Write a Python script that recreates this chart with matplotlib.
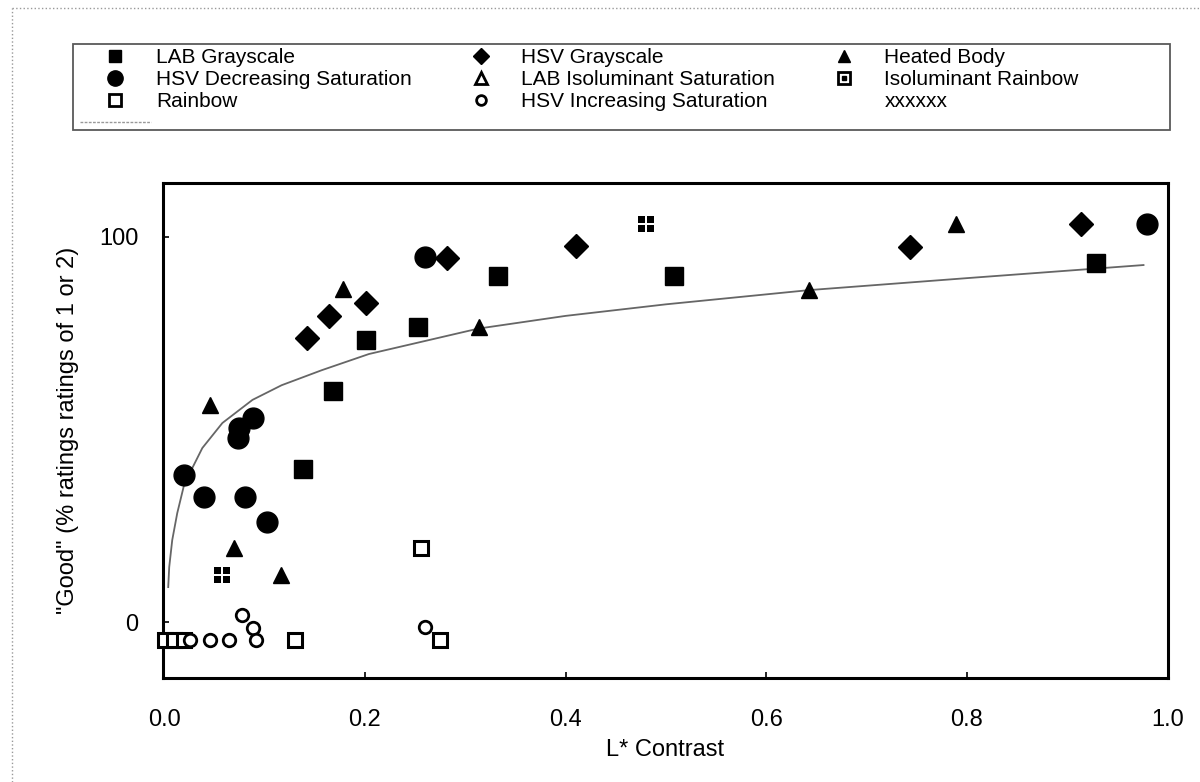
import matplotlib.pyplot as plt
from matplotlib.lines import Line2D
from matplotlib.patches import Rectangle
from matplotlib.path import Path
from matplotlib.legend_handler import HandlerTuple

plt.rcParams['font.family'] = ['Liberation Sans', 'DejaVu Sans']

# values
lab_gray_x = [0.138, 0.168, 0.201, 0.253, 0.333, 0.508, 0.929]
lab_gray_y = [39.7, 60.0, 73.2, 76.6, 89.9, 89.9, 93.2]

hsv_gray_x = [0.142, 0.164, 0.201, 0.282, 0.410, 0.743, 0.914]
hsv_gray_y = [73.8, 79.5, 82.9, 94.5, 97.7, 97.4, 103.4]

heated_x = [0.046, 0.070, 0.116, 0.178, 0.314, 0.643, 0.789]
heated_y = [56.4, 19.2, 12.2, 86.5, 76.6, 86.2, 103.4]

hsv_dec_x = [0.020, 0.040, 0.081, 0.102, 0.074, 0.075, 0.088, 0.260, 0.979]
hsv_dec_y = [38.2, 32.5, 32.5, 26.0, 47.8, 50.4, 53.0, 94.8, 103.4]

lab_iso_x = []
lab_iso_y = []

iso_rainbow_x = [0.058, 0.480]
iso_rainbow_y = [12.2, 103.4]

rainbow_x = [0.001, 0.010, 0.020, 0.130, 0.256, 0.275]
rainbow_y = [-4.7, -4.7, -4.7, -4.7, 19.2, -4.7]

hsv_inc_x = [0.026, 0.046, 0.065, 0.078, 0.088, 0.091, 0.260]
hsv_inc_y = [-4.7, -4.7, -4.7, 1.8, -1.4, -4.7, -1.3]

# fitted curve, points
fit_x = [0.004, 0.005, 0.008, 0.013, 0.021, 0.028, 0.038, 0.058, 0.088, 0.117,
         0.157, 0.204, 0.313, 0.4, 0.5, 0.643, 0.8, 0.976]
fit_y = [9.1, 14.3, 21.3, 28.3, 36.9, 40.0, 45.2, 51.7, 57.7, 61.5,
         65.4, 69.6, 76.2, 79.5, 82.5, 86.2, 89.3, 92.7]

x_ticks = [0.0, 0.2, 0.4, 0.6, 0.8, 1.0]
y_ticks = [0, 100]


def dots_marker():
    # four little squares in a 2x2 block
    verts, codes = [], []
    for cx, cy in [(-0.5, -0.5), (0.5, -0.5), (-0.5, 0.5), (0.5, 0.5)]:
        h = 0.38
        sq = [(cx - h, cy - h), (cx + h, cy - h), (cx + h, cy + h), (cx - h, cy + h), (cx - h, cy - h)]
        verts += sq
        codes += [Path.MOVETO, Path.LINETO, Path.LINETO, Path.LINETO, Path.CLOSEPOLY]
    return Path(verts, codes)


fig = plt.figure(figsize=(12, 7.82), dpi=100)
ax = fig.add_axes([0.136, 0.133, 0.837, 0.633])

ax.plot(fit_x, fit_y, color='0.4', lw=1.3)

kw = dict(ls='none', clip_on=False, zorder=3)
ax.plot(lab_gray_x, lab_gray_y, marker='s', ms=13, color='black', **kw)
ax.plot(hsv_gray_x, hsv_gray_y, marker='D', ms=12, color='black', **kw)
ax.plot(heated_x, heated_y, marker='^', ms=12, color='black', **kw)
ax.plot(hsv_dec_x, hsv_dec_y, marker='o', ms=15, color='black', **kw)
ax.plot(lab_iso_x, lab_iso_y, marker='^', ms=10, mfc='white', mec='black', mew=2, **kw)
ax.plot(iso_rainbow_x, iso_rainbow_y, marker=dots_marker(), ms=11, color='black', mew=0, **kw)
ax.plot(rainbow_x, rainbow_y, marker='s', ms=10, mfc='white', mec='black', mew=2.2, **kw)
ax.plot(hsv_inc_x, hsv_inc_y, marker='o', ms=9, mfc='white', mec='black', mew=2, **kw)

ax.set_xlim(-0.001, 1.0)
ax.set_ylim(-14.5, 114)
ax.set_xticks(x_ticks)
ax.set_xticklabels([f'{t:.1f}' for t in x_ticks])
ax.set_yticks(y_ticks)
ax.tick_params(direction='in', length=4, width=1.2, labelsize=17)
ax.tick_params(axis='x', pad=22)
ax.tick_params(axis='y', pad=18)
for s in ax.spines.values():
    s.set_linewidth(2.2)

ax.set_xlabel('L* Contrast', fontsize=17, labelpad=6)
ax.set_ylabel('"Good" (% ratings ratings of 1 or 2)', fontsize=17, labelpad=14)

# legend handles
lg_lab = Line2D([], [], ls='none', marker='s', ms=9, color='black')
lg_hsvg = Line2D([], [], ls='none', marker='D', ms=8, color='black')
lg_heat = Line2D([], [], ls='none', marker='^', ms=9, color='black')
lg_dec = Line2D([], [], ls='none', marker='o', ms=11, color='black')
lg_iso = Line2D([], [], ls='none', marker='^', ms=9, mfc='white', mec='black', mew=2)
lg_isor_out = Line2D([], [], ls='none', marker='s', ms=9, mfc='white', mec='black', mew=2)
lg_isor_in = Line2D([], [], ls='none', marker='s', ms=3, color='black')
lg_rain = Line2D([], [], ls='none', marker='s', ms=9, mfc='white', mec='black', mew=2)
lg_inc = Line2D([], [], ls='none', marker='o', ms=7, mfc='white', mec='black', mew=2)
lg_fit = Line2D([], [], color='0.6', lw=1, ls=(0, (2, 1)))
lg_x = Line2D([], [], ls='none')

handles = [lg_lab, lg_dec, lg_rain, lg_fit,
           lg_hsvg, lg_iso, lg_inc,
           lg_heat, (lg_isor_out, lg_isor_in), lg_x]
labels = ['LAB Grayscale', 'HSV Decreasing Saturation', 'Rainbow', '',
          'HSV Grayscale', 'LAB Isoluminant Saturation', 'HSV Increasing Saturation',
          'Heated Body', 'Isoluminant Rainbow', 'xxxxxx']

leg = fig.legend(handles, labels, ncol=3, loc='upper left',
                 bbox_to_anchor=(0.0667, 0.9385),
                 fontsize=15, frameon=False,
                 handlelength=3.4, handletextpad=0.25, labelspacing=0.14,
                 columnspacing=1.6, borderpad=0, borderaxespad=0,
                 handler_map={tuple: HandlerTuple(ndivide=1)})

# legend frame spanning the full width
fig.add_artist(Rectangle((0.0608, 0.8338), 0.914, 0.11, transform=fig.transFigure,
                         fill=False, edgecolor='0.35', lw=1.3))

# faint scan frame
fig.add_artist(Line2D([0.01, 0.01], [0.0, 0.99], color='0.6', lw=1, ls=':', transform=fig.transFigure))
fig.add_artist(Line2D([0.01, 1.0], [0.99, 0.99], color='0.6', lw=1, ls=':', transform=fig.transFigure))

fig.savefig('out.png', dpi=100)
